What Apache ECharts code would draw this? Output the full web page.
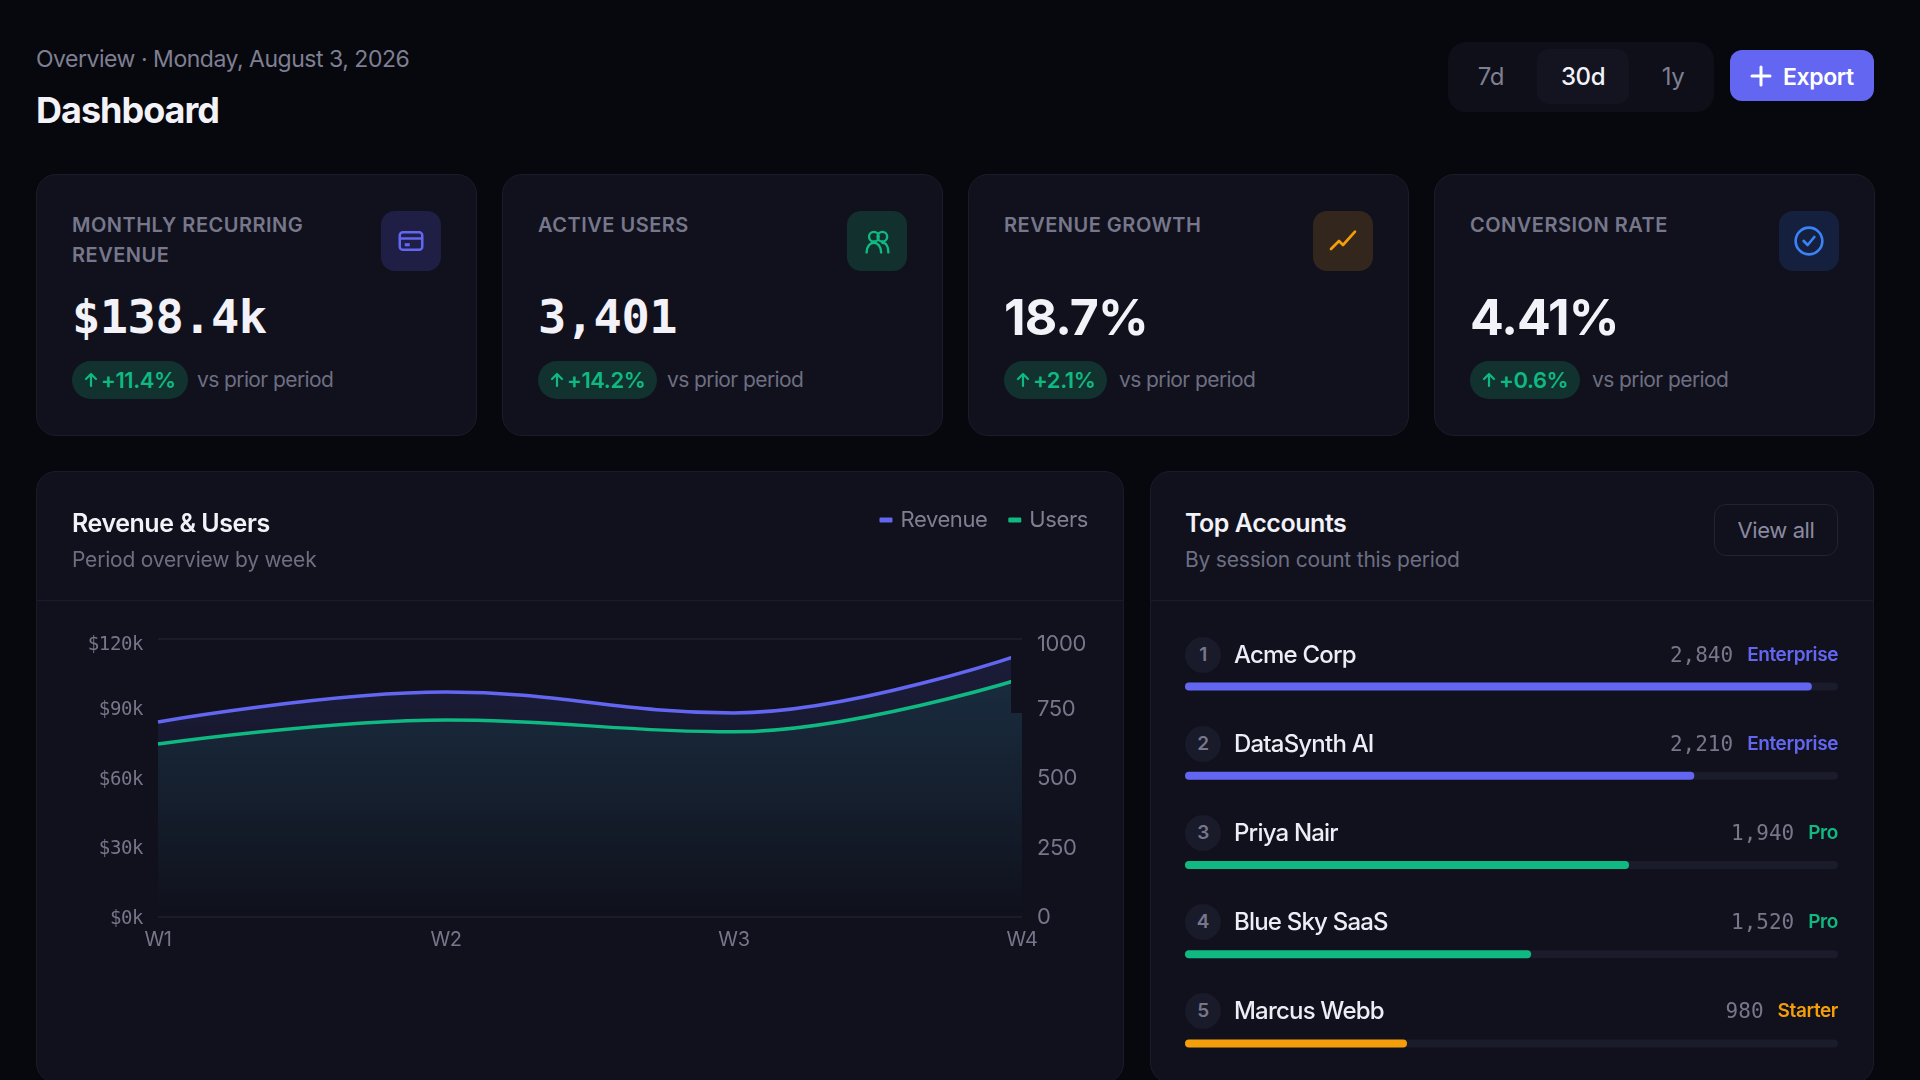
<!DOCTYPE html>
<html>
<head>
<meta charset="utf-8">
<title>Dashboard</title>
<script src="https://cdn.jsdelivr.net/npm/echarts@6/dist/echarts.min.js"></script>
<style>
* { box-sizing: border-box; margin: 0; padding: 0; }
html, body { width: 1920px; height: 1080px; overflow: hidden; background: #07070e; font-family: Inter, sans-serif; letter-spacing: -0.4px; }
.abs { position: absolute; white-space: nowrap; }
.eyebrow { left: 36px; top: 45px; font-size: 23px; line-height: 28px; color: #7f7f92; letter-spacing: -0.48px; }
.page-title { left: 36px; top: 87px; font-size: 36px; line-height: 46px; font-weight: 700; color: #f2f2f8; letter-spacing: -1px; }
.segment { left: 1448px; top: 42px; width: 266px; height: 70px; background: #0e0f18; border-radius: 18px; }
.segment .on { position: absolute; left: 89px; top: 7px; width: 92px; height: 55px; background: #131420; border-radius: 12px; }
.seg-txt { position: absolute; top: 21px; width: 92px; text-align: center; font-size: 24px; line-height: 28px; color: #7f7f92; }
.export { left: 1730px; top: 50px; width: 144px; height: 51px; background: #6366f1; border-radius: 12px; color: #fff; font-size: 23px; font-weight: 600; line-height: 54px; padding-left: 53px; }
.export svg { position: absolute; left: 19px; top: 14px; }
.card { position: absolute; background: #10111c; border: 1px solid #1b1c29; border-radius: 20px; }
.stat { top: 174px; width: 441px; height: 262px; }
.stat .label { position: absolute; left: 35px; top: 35px; width: 270px; font-size: 20px; line-height: 30px; font-weight: 600; color: #77778c; letter-spacing: 0.5px; }
.stat .icon { position: absolute; left: 344px; top: 36px; width: 60px; height: 60px; border-radius: 14px; display: flex; align-items: center; justify-content: center; }
.stat .value { position: absolute; left: 35px; top: 112px; font-size: 50px; line-height: 60px; font-weight: 700; color: #f2f2f8; letter-spacing: -0.9px; }
.stat .value.mono { font-family: "DejaVu Sans Mono", monospace; font-size: 47px; letter-spacing: -0.5px; }
.stat .pill { position: absolute; left: 35px; top: 186px; height: 38px; border-radius: 19px; background: #11322f; color: #10b981; font-size: 22px; font-weight: 600; line-height: 38px; padding: 0 12px 0 29px; }
.stat .pill svg { position: absolute; left: 11px; top: 11px; }
.stat .vs { position: absolute; top: 191px; font-size: 21px; line-height: 28px; color: #6e6e82; letter-spacing: -0.6px; }
.panel-title { position: absolute; top: 35px; font-size: 25px; line-height: 32px; font-weight: 600; color: #f2f2f8; letter-spacing: -0.45px; }
.panel-sub { position: absolute; top: 74px; font-size: 21px; line-height: 28px; color: #6e6e82; letter-spacing: -0.2px; }
.divider { position: absolute; left: 0; right: 0; top: 128px; height: 1px; background: #1b1c29; }
#chart { position: absolute; left: 0; top: 0; width: 1086px; height: 610px; }
.line-cut { position: absolute; left: 974px; top: 170px; width: 16px; height: 71px; background: #10111c; }
.view-all { position: absolute; left: 563px; top: 32px; width: 124px; height: 52px; border: 1px solid #22232f; border-radius: 12px; text-align: center; line-height: 50px; font-size: 22px; color: #8a8aa0; }
#bars { position: absolute; left: 34px; top: 170px; width: 653px; height: 446px; }
.rank { position: absolute; left: 34px; width: 36px; height: 36px; border-radius: 18px; background: #191a2a; color: #77778c; font-size: 19px; font-weight: 600; line-height: 36px; text-align: center; }
.name { position: absolute; left: 83px; font-size: 24px; line-height: 36px; font-weight: 500; color: #ecedf5; letter-spacing: -0.8px; }
.acct-right { position: absolute; right: 35px; display: flex; gap: 14px; line-height: 36px; }
.acct-right .num { font-family: "DejaVu Sans Mono", monospace; font-size: 21px; color: #77778c; letter-spacing: 0; }
.acct-right .tier { font-size: 19px; font-weight: 600; }
</style>
</head>
<body>
<div class="abs eyebrow">Overview · Monday, August 3, 2026</div>
<div class="abs page-title">Dashboard</div>
<div class="abs segment">
  <div class="on"></div>
  <div class="seg-txt" style="left:-3px">7d</div>
  <div class="seg-txt" style="left:89px;color:#f2f2f8;font-weight:500">30d</div>
  <div class="seg-txt" style="left:179px">1y</div>
</div>
<div class="abs export"><svg width="24" height="24" viewBox="0 0 24 24" fill="none" stroke="#fff" stroke-width="3" stroke-linecap="round"><path d="M12 3v18M3 12h18"/></svg>Export</div>

<div id="stats"></div>

<div class="card" style="left:36px;top:471px;width:1088px;height:612px">
  <div id="chart"></div>
  <div class="line-cut"></div>
  <div class="panel-title" style="left:35px">Revenue &amp; Users</div>
  <div class="panel-sub" style="left:35px">Period overview by week</div>
  <div class="divider"></div>
</div>

<div class="card" id="accounts" style="left:1150px;top:471px;width:724px;height:612px">
  <div class="panel-title" style="left:34px">Top Accounts</div>
  <div class="panel-sub" style="left:34px">By session count this period</div>
  <div class="view-all">View all</div>
  <div class="divider"></div>
  <div id="bars"></div>
</div>

<script>
// stat cards
const statLabels = ['MONTHLY RECURRING REVENUE', 'ACTIVE USERS', 'REVENUE GROWTH', 'CONVERSION RATE'];
const statValues = ['$138.4k', '3,401', '18.7%', '4.41%'];
const statDeltas = ['+11.4%', '+14.2%', '+2.1%', '+0.6%'];

// chart
const weeks = ['W1', 'W2', 'W3', 'W4'];
const revenue = [84200, 97100, 88100, 113500];
const users = [622, 709, 666, 858];
const revenueTicks = ['$0k', '$30k', '$60k', '$90k', '$120k'];

// top accounts
const accountNames = ['Acme Corp', 'DataSynth AI', 'Priya Nair', 'Blue Sky SaaS', 'Marcus Webb'];
const accountSessions = ['2,840', '2,210', '1,940', '1,520', '980'];
const accountTiers = ['Enterprise', 'Enterprise', 'Pro', 'Pro', 'Starter'];
const accountShare = [96, 78, 68, 53, 34];

const tierColor = { Enterprise: '#6366f1', Pro: '#10b981', Starter: '#f59e0b' };
const statLeft = [36, 502, 968, 1434];
const statMono = [true, true, false, false];
const statVsLeft = [160, 164, 150, 157];
const statIconBg = ['#1f1f45', '#12302d', '#33261c', '#15203f'];
const statIcons = [
  '<svg width="30" height="30" viewBox="0 0 24 24" fill="none" stroke="#6366f1" stroke-width="2"><rect x="3" y="5" width="18" height="14" rx="2.5"/><path d="M3 10h18"/><path d="M7 15h4" stroke-width="2.5"/></svg>',
  '<svg width="29" height="29" viewBox="0 0 24 24" fill="none" stroke="#10b981" stroke-width="2" stroke-linecap="round"><circle cx="9" cy="8" r="4"/><circle cx="16" cy="8" r="4"/><path d="M3 21c0-5 3-8 6-8s6 3 6 8"/><path d="M16 13c3 0 5 3 5 8"/></svg>',
  '<svg width="32" height="32" viewBox="0 0 24 24" fill="none" stroke="#f59e0b" stroke-width="2" stroke-linecap="round" stroke-linejoin="round"><path d="M3 18l6-6 3 3 9-10"/></svg>',
  '<svg width="32" height="32" viewBox="0 0 24 24" fill="none" stroke="#3b82f6" stroke-width="2" stroke-linecap="round" stroke-linejoin="round"><circle cx="12" cy="12" r="10"/><path d="M8 12l3 3 5-6"/></svg>'
];
const arrowUp = '<svg width="16" height="16" viewBox="0 0 16 16" fill="none" stroke="#10b981" stroke-width="2.2" stroke-linecap="round" stroke-linejoin="round"><path d="M8 14V2M3 7l5-5 5 5"/></svg>';

document.getElementById('stats').innerHTML = statLabels.map((label, i) => `
  <div class="card stat" style="left:${statLeft[i]}px">
    <div class="label">${label}</div>
    <div class="icon" style="background:${statIconBg[i]}">${statIcons[i]}</div>
    <div class="value ${statMono[i] ? 'mono' : ''}">${statValues[i]}</div>
    <div class="pill">${arrowUp}${statDeltas[i]}</div>
    <div class="vs" style="left:${statVsLeft[i]}px">vs prior period</div>
  </div>`).join('');

document.getElementById('accounts').insertAdjacentHTML('beforeend', accountNames.map((name, i) => {
  const top = 165 + i * 89;
  return `<div class="rank" style="top:${top}px">${i + 1}</div>
    <div class="name" style="top:${top}px">${name}</div>
    <div class="acct-right" style="top:${top}px"><span class="num">${accountSessions[i]}</span><span class="tier" style="color:${tierColor[accountTiers[i]]}">${accountTiers[i]}</span></div>`;
}).join(''));

const axisGray = '#77778c';
const chart = echarts.init(document.getElementById('chart'));
chart.setOption({
  animation: false,
  legend: {
    top: 32, right: 28, itemGap: 18, itemWidth: 13, itemHeight: 5, icon: 'roundRect',
    textStyle: { color: '#7f7f92', fontSize: 22, fontFamily: 'Inter', padding: [0, 0, 0, 3] },
    data: ['Revenue', 'Users']
  },
  grid: { left: 121, right: 101, top: 167, height: 278 },
  xAxis: {
    type: 'category', boundaryGap: false, data: weeks,
    axisLine: { show: false }, axisTick: { show: false },
    axisLabel: { color: axisGray, fontSize: 20, fontFamily: 'Inter', margin: 13 }
  },
  yAxis: [{
    type: 'value', min: 0, max: 120000, interval: 30000,
    axisLine: { show: false }, axisTick: { show: false },
    splitLine: { lineStyle: { width: 2, color: ['#1b1c29', 'transparent', 'transparent', 'transparent', '#1b1c29'] } },
    axisLabel: {
      margin: 15,
      formatter: (v, i) => i === 4 ? `{top|${revenueTicks[i]}}` : `{mono|${revenueTicks[i]}}`,
      rich: {
        mono: { color: axisGray, fontSize: 19, fontFamily: 'DejaVu Sans Mono', padding: [4, 0, 0, 0] },
        top: { color: axisGray, fontSize: 19, fontFamily: 'DejaVu Sans Mono', padding: [13, 0, 0, 0] }
      }
    }
  }, {
    type: 'value', min: 0, max: 1000, interval: 250,
    axisLine: { show: false }, axisTick: { show: false }, splitLine: { show: false },
    axisLabel: {
      margin: 15,
      formatter: (v) => v === 1000 ? `{top|${v}}` : `{std|${v}}`,
      rich: {
        std: { color: axisGray, fontSize: 22, fontFamily: 'Inter', padding: [1, 0, 0, 0] },
        top: { color: axisGray, fontSize: 22, fontFamily: 'Inter', padding: [10, 0, 0, 0] }
      }
    }
  }],
  series: [{
    name: 'Revenue', type: 'line', smooth: 0.4, smoothMonotone: 'x', symbol: 'none', yAxisIndex: 0, data: revenue,
    itemStyle: { color: '#6366f1' },
    lineStyle: { width: 3.5, color: '#6366f1' },
    areaStyle: { color: new echarts.graphic.LinearGradient(0, 0, 0, 1, [{ offset: 0, color: 'rgba(99,102,241,0.2)' }, { offset: 1, color: 'rgba(99,102,241,0)' }]) }
  }, {
    name: 'Users', type: 'line', smooth: 0.4, smoothMonotone: 'x', symbol: 'none', yAxisIndex: 1, data: users,
    itemStyle: { color: '#10b981' },
    lineStyle: { width: 3.5, color: '#10b981' },
    areaStyle: { color: new echarts.graphic.LinearGradient(0, 0, 0, 1, [{ offset: 0, color: 'rgba(16,185,129,0.15)' }, { offset: 1, color: 'rgba(16,185,129,0)' }]) }
  }]
});

const bars = echarts.init(document.getElementById('bars'));
bars.setOption({
  animation: false,
  grid: { left: 0, right: 0, top: 0, bottom: 0 },
  xAxis: { type: 'value', min: 0, max: 100, show: false },
  yAxis: { type: 'category', inverse: true, data: accountNames, show: false },
  series: [{
    type: 'bar', barWidth: 8, silent: true,
    showBackground: true,
    backgroundStyle: { color: '#1a1b2b', borderRadius: 4 },
    itemStyle: { borderRadius: 4 },
    data: accountShare.map((v, i) => ({ value: v, itemStyle: { color: tierColor[accountTiers[i]] } }))
  }]
});
</script>
</body>
</html>
